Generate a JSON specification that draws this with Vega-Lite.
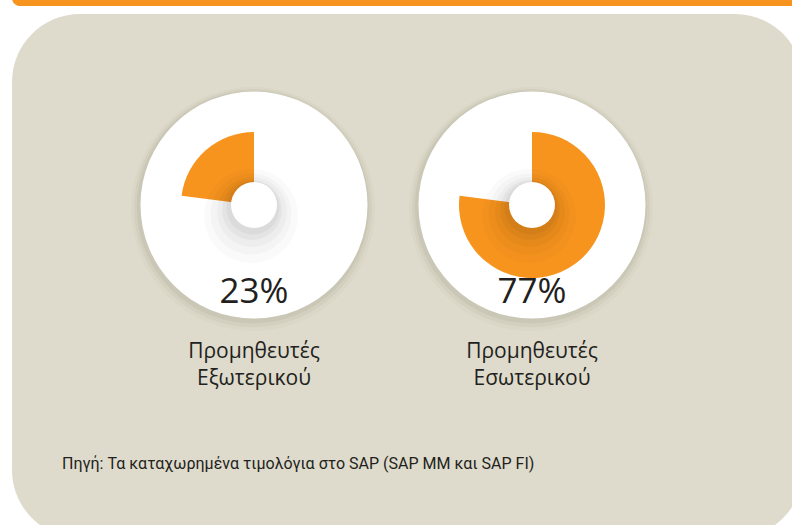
{
  "$schema": "https://vega.github.io/schema/vega-lite/v6.json",
  "background": "white",
  "padding": {"left": 12, "top": -10, "right": 0, "bottom": 0},
  "spacing": 8,
  "config": {"view": {"stroke": null}},
  "datasets": {
    "pies": [
      {"panel": "Εξωτερικού", "share": "Εξωτερικού", "value": 23},
      {"panel": "Εξωτερικού", "share": "Εσωτερικού", "value": 77},
      {"panel": "Εσωτερικού", "share": "Εξωτερικού", "value": 23},
      {"panel": "Εσωτερικού", "share": "Εσωτερικού", "value": 77}
    ],
    "labels": [
      {"panel": "Εξωτερικού", "pct": "23%", "label": "Προμηθευτές\nΕξωτερικού"},
      {"panel": "Εσωτερικού", "pct": "77%", "label": "Προμηθευτές\nΕσωτερικού"}
    ],
    "note": [
      {"note": "Πηγή: Τα καταχωρημένα τιμολόγια στο SAP (SAP MM και SAP FI)"}
    ]
  },
  "vconcat": [
    {
      "width": 791,
      "height": 16,
      "view": {"fill": "#F7941E", "cornerRadius": 10, "stroke": null},
      "data": {"values": []},
      "mark": "text",
      "encoding": {}
    },
    {
      "width": 791,
      "height": 524,
      "view": {"fill": "#DEDBCC", "cornerRadius": 68, "stroke": null},
      "encoding": {
        "x": {"field": "panel", "type": "nominal", "scale": {"domain": ["Εξωτερικού", "Εσωτερικού"], "range": [242, 520], "padding": 0}, "axis": null},
        "y": {"datum": "donut", "type": "nominal", "scale": {"domain": ["donut", "pct", "label", "source"], "range": [191, 455], "padding": 0}, "axis": null}
      },
      "layer": [
        {"data": {"name": "labels"}, "mark": {"type": "circle", "size": 59500, "color": "#5a5640", "opacity": 0.03, "yOffset": 4, "xOffset": -1}},
        {"data": {"name": "labels"}, "mark": {"type": "circle", "size": 56600, "color": "#5a5640", "opacity": 0.05, "yOffset": 3, "xOffset": -1}},
        {"data": {"name": "labels"}, "mark": {"type": "circle", "size": 54000, "color": "#5a5640", "opacity": 0.07, "yOffset": 2, "xOffset": -1}},
        {"data": {"name": "labels"}, "mark": {"type": "circle", "size": 51529, "color": "white", "opacity": 1}},
        {
          "data": {"name": "pies"},
          "transform": [
            {"stack": "value", "groupby": ["panel"], "sort": [{"field": "value", "order": "descending"}], "as": ["v0", "v1"]},
            {"filter": "datum.panel === datum.share"}
          ],
          "mark": {"type": "arc", "outerRadius": 73, "innerRadius": 0, "color": "#F7941E"},
          "encoding": {
            "theta": {"field": "v0", "type": "quantitative", "scale": {"domain": [0, 100]}},
            "theta2": {"field": "v1"}
          }
        },
        {"data": {"name": "labels"}, "mark": {"type": "circle", "size": 8836, "color": "black", "opacity": 0.018, "yOffset": 11, "xOffset": -3}},
        {"data": {"name": "labels"}, "mark": {"type": "circle", "size": 6561, "color": "black", "opacity": 0.022, "yOffset": 9, "xOffset": -3}},
        {"data": {"name": "labels"}, "mark": {"type": "circle", "size": 4900, "color": "black", "opacity": 0.028, "yOffset": 7, "xOffset": -2}},
        {"data": {"name": "labels"}, "mark": {"type": "circle", "size": 3600, "color": "black", "opacity": 0.034, "yOffset": 5, "xOffset": -2}},
        {"data": {"name": "labels"}, "mark": {"type": "circle", "size": 2809, "color": "black", "opacity": 0.04, "yOffset": 3, "xOffset": -1}},
        {"data": {"name": "labels"}, "mark": {"type": "circle", "size": 2116, "color": "white", "opacity": 1}},
        {
          "data": {"name": "labels"},
          "mark": {"type": "text", "font": "Open Sans", "fontSize": 35, "color": "#231F20", "baseline": "alphabetic", "dy": 10},
          "encoding": {"y": {"datum": "pct", "type": "nominal"}, "text": {"field": "pct"}}
        },
        {
          "data": {"name": "labels"},
          "mark": {"type": "text", "font": "Open Sans", "fontSize": 21, "lineHeight": 27, "lineBreak": "\n", "color": "#231F20", "baseline": "alphabetic", "dy": -23},
          "encoding": {"y": {"datum": "label", "type": "nominal"}, "text": {"field": "label"}}
        },
        {
          "data": {"name": "note"},
          "mark": {"type": "text", "font": "Roboto", "fontSize": 16, "color": "#231F20", "baseline": "alphabetic", "align": "left", "dx": -192},
          "encoding": {"x": {"datum": "Εξωτερικού", "type": "nominal"}, "y": {"datum": "source", "type": "nominal"}, "text": {"field": "note"}}
        }
      ]
    }
  ]
}
